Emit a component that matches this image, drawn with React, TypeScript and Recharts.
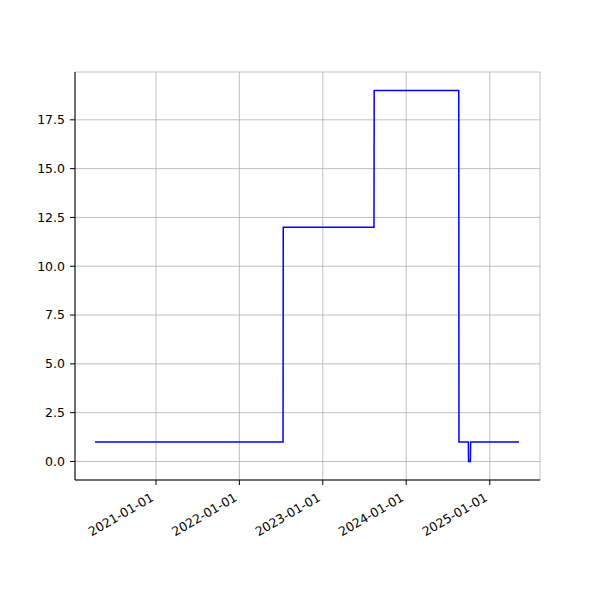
import React from 'react';
import { LineChart, Line, XAxis, YAxis, CartesianGrid } from 'recharts';

const dates = [
  '2020-04-09', '2022-07-11', '2022-07-12', '2023-08-13', '2023-08-14',
  '2024-08-18', '2024-08-19', '2024-09-29', '2024-09-30', '2024-10-08',
  '2024-10-09', '2025-05-09',
];
const values = [1, 1, 12, 12, 19, 19, 1, 1, 0, 0, 1, 1];
const xTickLabels = ['2021-01-01', '2022-01-01', '2023-01-01', '2024-01-01', '2025-01-01'];
const yTicks = [0, 2.5, 5, 7.5, 10, 12.5, 15, 17.5];

const toMs = (s: string) => {
  const [y, m, d] = s.split('-').map(Number);
  return Date.UTC(y, m - 1, d);
};
const DAY = 86400000;
const data = dates.map((d, i) => ({ t: toMs(d), v: values[i] }));
const xTicks = xTickLabels.map(toMs);
const xDomain = [toMs('2021-01-01') - 354.5 * DAY, toMs('2021-01-01') + 1680.7 * DAY];
const yDomain = [-0.95, 19.95];

const fmtDate = (ms: number) => {
  const d = new Date(ms);
  const p = (n: number) => String(n).padStart(2, '0');
  return `${d.getUTCFullYear()}-${p(d.getUTCMonth() + 1)}-${p(d.getUTCDate())}`;
};

const FONT = 'DejaVu Sans, sans-serif';
const FS = 12.5;

const XTick = (props: any) => {
  const { x, y, payload } = props;
  const h = FS * 1.164;
  return (
    <g transform={`translate(${x},${y + 0.866 * h}) rotate(-30)`}>
      <text x={0} y={0} dy={-0.236 * FS} textAnchor="end" fill="#000" fontFamily={FONT} fontSize={FS}>
        {fmtDate(payload.value)}
      </text>
    </g>
  );
};

export default function App() {
  return (
    <div style={{ position: 'absolute', left: 0, top: 0, width: 600, height: 600, background: '#fff' }}>
      <LineChart
        width={600}
        height={600}
        data={data}
        margin={{ top: 72, right: 60, bottom: 60, left: 0 }}
      >
        <CartesianGrid stroke="#b0b0b0" strokeWidth={0.8} />
        <XAxis
          dataKey="t"
          type="number"
          domain={xDomain}
          ticks={xTicks}
          allowDataOverflow
          height={60}
          tickSize={5}
          tickMargin={5}
          axisLine={{ stroke: '#000', strokeWidth: 1 }}
          tickLine={{ stroke: '#000', strokeWidth: 1 }}
          tick={<XTick />}
          interval={0}
        />
        <XAxis
          xAxisId="top"
          orientation="top"
          dataKey="t"
          type="number"
          domain={xDomain}
          allowDataOverflow
          height={0}
          tick={false}
          tickLine={false}
          axisLine={{ stroke: '#000', strokeWidth: 1 }}
        />
        <YAxis
          type="number"
          domain={yDomain}
          ticks={yTicks}
          allowDataOverflow
          width={75}
          tickSize={5}
          tickMargin={5}
          axisLine={{ stroke: '#000', strokeWidth: 1 }}
          tickLine={{ stroke: '#000', strokeWidth: 1 }}
          tick={{ fill: '#000', fontFamily: FONT, fontSize: FS }}
          tickFormatter={(v: number) => v.toFixed(1)}
          interval={0}
        />
        <YAxis
          yAxisId="right"
          orientation="right"
          type="number"
          domain={yDomain}
          allowDataOverflow
          width={0}
          tick={false}
          tickLine={false}
          axisLine={{ stroke: '#000', strokeWidth: 1 }}
        />
        <Line
          type="linear"
          dataKey="v"
          stroke="#0000ff"
          strokeWidth={1.5}
          dot={false}
          isAnimationActive={false}
        />
      </LineChart>
    </div>
  );
}
